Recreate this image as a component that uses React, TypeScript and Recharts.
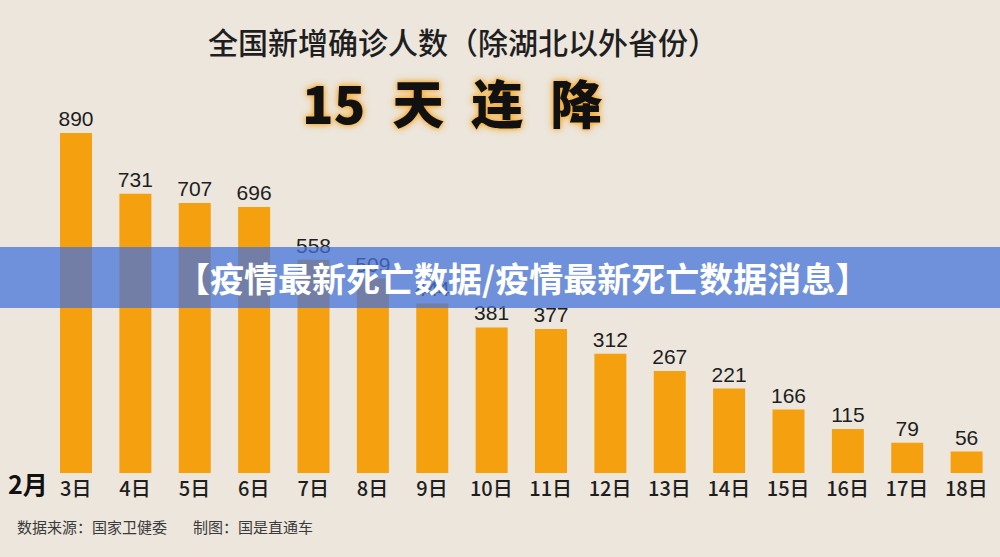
import React from "react";
import { BarChart, Bar, XAxis, YAxis, LabelList } from "recharts";

const days = ["3日", "4日", "5日", "6日", "7日", "8日", "9日", "10日", "11日", "12日", "13日", "14日", "15日", "16日", "17日", "18日"];
const newCases = [890, 731, 707, 696, 558, 509, 444, 381, 377, 312, 267, 221, 166, 115, 79, 56];
const headline = ["15", "天", "连", "降"];

const data = days.map((d, i) => ({ day: d, value: newCases[i] }));

const CJK = '"Noto Sans CJK SC", "Noto Sans", sans-serif';
const NUM = '"Liberation Sans", Arial, "Noto Sans CJK SC", sans-serif';

const Tick = (props: any) => {
  const { x, y, payload } = props;
  return (
    <text x={x} y={y + 15} textAnchor="middle" fontSize={20} fontFamily={CJK} fontWeight={500} fill="#1e1e1e">
      {payload.value}
    </text>
  );
};

export default function App() {
  return (
    <div style={{ position: "absolute", left: 0, top: 0, width: 1000, height: 557, background: "#ece6dd", overflow: "hidden" }}>
      <div style={{ position: "absolute", left: 208, top: 20, fontFamily: CJK, fontSize: 30, fontWeight: 500, color: "#1f1f1f", lineHeight: "42px", whiteSpace: "nowrap" }}>
        全国新增确诊人数（除湖北以外省份）
      </div>
      <div style={{ position: "absolute", left: 302, top: 70, display: "flex", gap: 27, fontFamily: CJK, fontSize: 52, fontWeight: 900, color: "#111", lineHeight: "64px", textShadow: "0 0 4px #f5a623, 0 0 8px #f5b040" }}>
        {headline.map((h) => (
          <span key={h}>{h}</span>
        ))}
      </div>
      <BarChart width={1000} height={557} data={data} margin={{ top: 133, right: 4, bottom: 54, left: 46 }} style={{ position: "absolute", left: 0, top: 0 }}>
        <XAxis dataKey="day" axisLine={false} tickLine={false} tick={<Tick />} height={30} interval={0} />
        <YAxis hide domain={[0, 890]} />
        <Bar dataKey="value" fill="#f5a00f" barSize={32} isAnimationActive={false}>
          <LabelList dataKey="value" position="top" offset={7} fontSize={21} fontFamily={NUM} fill="#1e1e1e" />
        </Bar>
      </BarChart>
      <div style={{ position: "absolute", left: 8, top: 467, fontFamily: CJK, fontSize: 25, fontWeight: 700, color: "#111", lineHeight: "32px" }}>2月</div>
      <div style={{ position: "absolute", left: 17, top: 516, fontFamily: CJK, fontSize: 15, color: "#3a3a3a", lineHeight: "22px", whiteSpace: "nowrap" }}>
        <span>数据来源：国家卫健委</span>
        <span style={{ marginLeft: 26 }}>制图：国是直通车</span>
      </div>
      <div style={{ position: "absolute", left: 0, top: 247, width: 1000, height: 61, background: "rgba(69,115,216,0.75)" }}>
        <div style={{ position: "absolute", left: 176, top: 0, lineHeight: "61px", fontFamily: CJK, fontSize: 34, fontWeight: 700, color: "#fff", whiteSpace: "nowrap" }}>
          【疫情最新死亡数据/疫情最新死亡数据消息】
        </div>
      </div>
    </div>
  );
}
